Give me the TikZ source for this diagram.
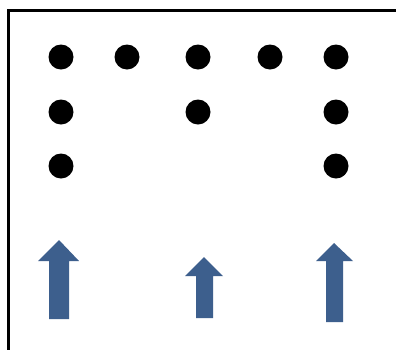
\documentclass[tikz,border=0pt]{standalone}
\definecolor{arrowblue}{RGB}{61,95,141}
\tikzset{
  dot/.style={circle,fill=black,inner sep=0pt,minimum size=25pt},
  uparrow/.style={fill=arrowblue,draw=none}
}
\begin{document}
\begin{tikzpicture}[x=1pt,y=-1pt]
\useasboundingbox (0,0) rectangle (396,349);
\fill[white] (0,0) rectangle (396,349);
% frame (only top and left edges visible)
\draw[line width=3pt] (8.5,352) -- (8.5,10.5) -- (400,10.5);
% dots
\node[dot] (d11) at (61,57) {};
\node[dot] (d12) at (127,57) {};
\node[dot] (d13) at (198,57) {};
\node[dot] (d14) at (270,57) {};
\node[dot] (d15) at (336,57) {};
\node[dot] (d21) at (61,112) {};
\node[dot] (d23) at (198,112) {};
\node[dot] (d25) at (336,112) {};
\node[dot] (d31) at (61,166) {};
\node[dot] (d35) at (336,166) {};
% arrows
\fill[uparrow] (59,240) -- (79,261) -- (69,261) -- (69,319) -- (49,319) -- (49,261) -- (38,261) -- cycle;
\fill[uparrow] (204,257) -- (223,276) -- (213,276) -- (213,318) -- (196,318) -- (196,276) -- (185,276) -- cycle;
\fill[uparrow] (334,243) -- (353,261) -- (343,261) -- (343,322) -- (326,322) -- (326,261) -- (316,261) -- cycle;
\end{tikzpicture}
\end{document}
